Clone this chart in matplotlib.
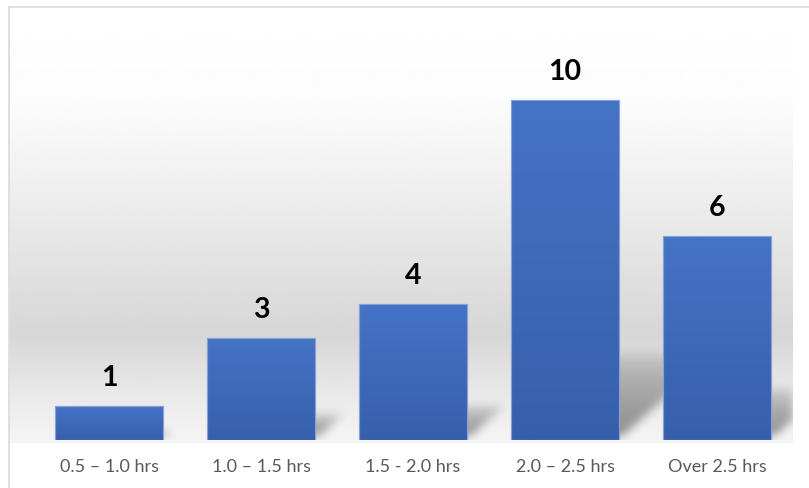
import numpy as np
import matplotlib
matplotlib.use("Agg")
import matplotlib.pyplot as plt
from matplotlib.colors import LinearSegmentedColormap
from matplotlib.lines import Line2D

categories = ["0.5 \u2013 1.0 hrs", "1.0 \u2013 1.5 hrs", "1.5 - 2.0 hrs",
              "2.0 \u2013 2.5 hrs", "Over 2.5 hrs"]
counts = [1, 3, 4, 10, 6]

W, H = 809, 488
DPI = 100
fig = plt.figure(figsize=(W / DPI, H / DPI), dpi=DPI)
fig.patch.set_facecolor("white")


def fx(px):
    return px / W


def fy(py):
    return 1 - py / H


# chart frame (left and top edges)
fig.add_artist(Line2D([fx(9), fx(9)], [fy(7), 0], color="#d9d9d9", lw=1.2,
                      transform=fig.transFigure))
fig.add_artist(Line2D([fx(9), 1], [fy(7), fy(7)], color="#d9d9d9", lw=1.2,
                      transform=fig.transFigure))

# plot-area background: vertical grey gradient
bg = fig.add_axes([fx(10), fy(443), fx(793 - 10), (443 - 8) / H], zorder=0)
rows = np.arange(8, 444)
stops_y = [8, 100, 200, 335, 390, 443]
stops_v = [255, 252, 237, 214, 232, 245]
vals = np.interp(rows, stops_y, stops_v) / 255.0
bg.imshow(np.repeat(vals[:, None], 4, axis=1), cmap="gray", vmin=0, vmax=1,
          aspect="auto", extent=[0, 1, 0, 1], interpolation="bilinear")
bg.set_axis_off()

# main axes
ax = fig.add_axes([fx(33), fy(440), fx(793 - 33), (440 - 32) / H], zorder=1)
ax.patch.set_alpha(0)
x = np.arange(len(categories))
width = 0.71
ymax = 12
ax.set_xlim(-0.5, len(categories) - 0.5)
ax.set_ylim(0, ymax)

# soft perspective shadows behind bars
nx, ny = 760, 408
gx = np.linspace(-0.5, len(categories) - 0.5, nx)
gy = np.linspace(0, ymax, ny)
X, Y = np.meshgrid(gx, gy)
shade = np.zeros_like(X)
for xi, v in zip(x, counts):
    x0, x1 = xi - width / 2, xi + width / 2
    dy = 0.26 * v
    dx = 0.065 * v
    t = Y / dy
    left = x0 + dx * t
    right = x1 + dx * t
    inside = (Y >= 0.1) & (t <= 1) & (X >= left) & (X <= right)
    shade = np.maximum(shade, np.where(inside, (1 - t) ** 0.5, 0))

sig = 4.5
k = np.arange(-14, 15)
kern = np.exp(-k ** 2 / (2 * sig ** 2))
kern /= kern.sum()
shade = np.apply_along_axis(lambda r: np.convolve(r, kern, mode="same"), 1, shade)
shade = np.apply_along_axis(lambda c: np.convolve(c, kern, mode="same"), 0, shade)
rgba = np.zeros((ny, nx, 4))
rgba[..., 3] = shade * 0.42
ax.imshow(rgba, extent=[gx[0], gx[-1], 0, ymax], origin="lower",
          aspect="auto", zorder=1, interpolation="bilinear")

# bars with a slight top-to-bottom gradient
bars = ax.bar(x, counts, width=width, color="#4472c4", edgecolor="#86a2d8",
              linewidth=0.8, zorder=2)
bar_cmap = LinearSegmentedColormap.from_list("bar", ["#3760ab", "#4573c6"])
grad = np.linspace(0, 1, 256)[:, None]
for b in bars:
    bx, bw, bh = b.get_x(), b.get_width(), b.get_height()
    im = ax.imshow(grad, cmap=bar_cmap, origin="lower", aspect="auto",
                   extent=[bx, bx + bw, 0, bh], zorder=3,
                   interpolation="bilinear")
    im.set_clip_path(b)
    edge = plt.Rectangle((bx, 0), bw, bh, fill=False, edgecolor="#86a2d8",
                         linewidth=0.8, zorder=4)
    ax.add_patch(edge)

ax.set_xlim(-0.5, len(categories) - 0.5)
ax.set_ylim(0, ymax)

# value labels
for xi, v in zip(x, counts):
    ax.annotate(str(v), (xi, v), xytext=(0, 14.5), textcoords="offset points",
                ha="center", va="baseline", fontsize=20.5, fontweight="bold",
                family="Lato", color="black", zorder=5)

ax.set_xticks(x)
ax.set_xticklabels(categories, fontsize=13, family="Lato", color="#595959")
ax.tick_params(axis="x", length=0, pad=13.5)
ax.set_yticks([])
for s in ax.spines.values():
    s.set_visible(False)

fig.savefig("out.png", dpi=DPI)
